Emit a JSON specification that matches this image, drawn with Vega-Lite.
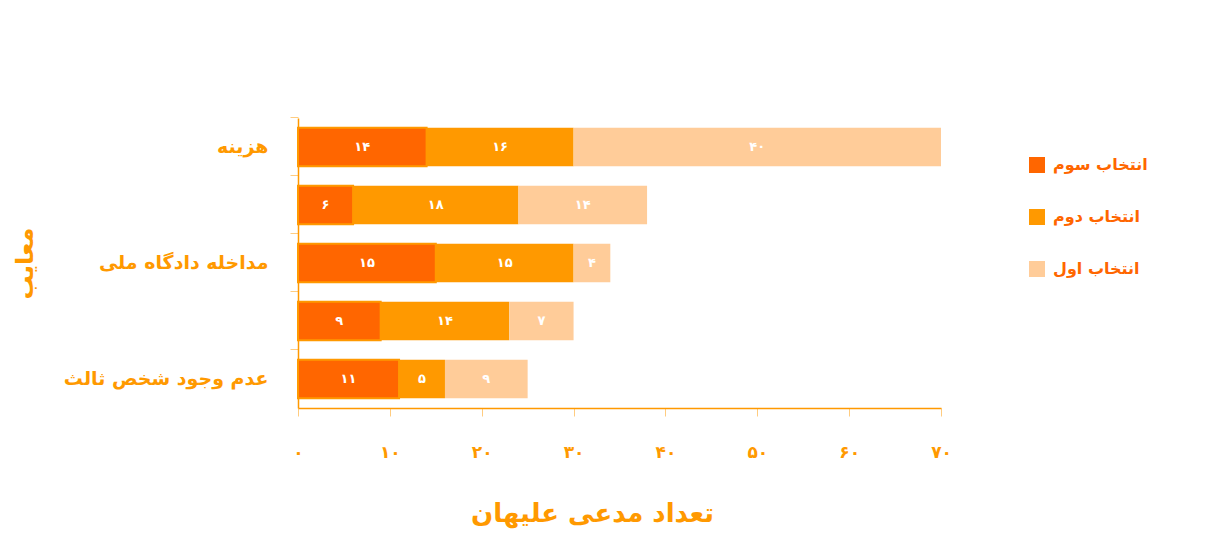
{
  "$schema": "https://vega.github.io/schema/vega-lite/v6.json",
  "autosize": {"type": "none"},
  "padding": {"left": 298, "top": 118, "right": 277, "bottom": 125},
  "width": 643,
  "height": 290,
  "background": "white",
  "config": {"view": {"stroke": null}, "font": "DejaVu Sans"},
  "data": {"values": [
    {"criterion": "هزینه", "series": "انتخاب سوم", "value": 14},
    {"criterion": "هزینه", "series": "انتخاب دوم", "value": 16},
    {"criterion": "هزینه", "series": "انتخاب اول", "value": 40},
    {"criterion": "معیار ۲", "series": "انتخاب سوم", "value": 6},
    {"criterion": "معیار ۲", "series": "انتخاب دوم", "value": 18},
    {"criterion": "معیار ۲", "series": "انتخاب اول", "value": 14},
    {"criterion": "مداخله دادگاه ملی", "series": "انتخاب سوم", "value": 15},
    {"criterion": "مداخله دادگاه ملی", "series": "انتخاب دوم", "value": 15},
    {"criterion": "مداخله دادگاه ملی", "series": "انتخاب اول", "value": 4},
    {"criterion": "معیار ۴", "series": "انتخاب سوم", "value": 9},
    {"criterion": "معیار ۴", "series": "انتخاب دوم", "value": 14},
    {"criterion": "معیار ۴", "series": "انتخاب اول", "value": 7},
    {"criterion": "عدم وجود شخص ثالث", "series": "انتخاب سوم", "value": 11},
    {"criterion": "عدم وجود شخص ثالث", "series": "انتخاب دوم", "value": 5},
    {"criterion": "عدم وجود شخص ثالث", "series": "انتخاب اول", "value": 9}
  ]},
  "transform": [
    {"calculate": "indexof(['انتخاب سوم','انتخاب دوم','انتخاب اول'], datum.series)", "as": "ord"},
    {"stack": "value", "groupby": ["criterion"], "sort": [{"field": "ord", "order": "ascending"}], "as": ["x0", "x1"]},
    {"calculate": "(datum.x0 + datum.x1) / 2", "as": "mid"},
    {"calculate": "replace(replace(replace(replace(replace(replace(replace(replace(replace(replace(toString(datum.value),regexp('0','g'),'۰'),regexp('1','g'),'۱'),regexp('2','g'),'۲'),regexp('3','g'),'۳'),regexp('4','g'),'۴'),regexp('5','g'),'۵'),regexp('6','g'),'۶'),regexp('7','g'),'۷'),regexp('8','g'),'۸'),regexp('9','g'),'۹')", "as": "lbl"}
  ],
  "encoding": {
    "y": {
      "field": "criterion", "type": "nominal",
      "sort": ["هزینه", "معیار ۲", "مداخله دادگاه ملی", "معیار ۴", "عدم وجود شخص ثالث"],
      "scale": {"paddingInner": 0.34, "paddingOuter": 0.17},
      "axis": {
        "title": "معایب",
        "titleAngle": -90,
        "titleX": -273,
        "titleY": 145,
        "titleAlign": "center",
        "titleBaseline": "middle",
        "titleFontSize": 24,
        "titleFontWeight": "bold",
        "titleColor": "#FF9900",
        "labelExpr": "indexof(['هزینه','مداخله دادگاه ملی','عدم وجود شخص ثالث'], datum.value) >= 0 ? datum.value : ''",
        "labelFontSize": 19,
        "labelFontWeight": "bold",
        "labelColor": "#FF9900",
        "labelPadding": 22,
        "labelLimit": 300,
        "bandPosition": -0.258,
        "tickSize": 8,
        "tickColor": "#FFCC80",
        "domainColor": "#FF9900",
        "domainWidth": 1.5
      }
    }
  },
  "layer": [
    {
      "mark": {"type": "bar", "strokeWidth": 2},
      "encoding": {
        "x": {
          "field": "x0", "type": "quantitative",
          "scale": {"domain": [0, 70], "nice": false},
          "axis": {
            "title": "تعداد مدعی علیهان",
            "values": [0, 10, 20, 30, 40, 50, 60, 70],
            "grid": false,
            "labelFlush": false,
            "titleX": 294,
            "titleY": 105,
            "titleAlign": "center",
            "titleBaseline": "middle",
            "titleFontSize": 26,
            "titleFontWeight": "bold",
            "titleColor": "#FF9900",
            "labelExpr": "replace(replace(replace(replace(replace(replace(replace(replace(datum.label,regexp('0','g'),'۰'),regexp('1','g'),'۱'),regexp('2','g'),'۲'),regexp('3','g'),'۳'),regexp('4','g'),'۴'),regexp('5','g'),'۵'),regexp('6','g'),'۶'),regexp('7','g'),'۷')",
            "labelFontSize": 17,
            "labelFontWeight": "bold",
            "labelColor": "#FF9900",
            "labelPadding": 28,
            "tickSize": 8,
            "tickColor": "#FFCC80",
            "domainColor": "#FF9900",
            "domainWidth": 1.5
          }
        },
        "x2": {"field": "x1"},
        "color": {
          "field": "series", "type": "nominal",
          "scale": {"domain": ["انتخاب سوم", "انتخاب دوم", "انتخاب اول"], "range": ["#FF6600", "#FF9900", "#FFCC99"]},
          "legend": {
            "title": null,
            "orient": "none",
            "legendX": 731,
            "legendY": 39,
            "symbolType": "square",
            "symbolSize": 256,
            "symbolStrokeWidth": 0,
            "labelFontSize": 16,
            "labelFontWeight": "bold",
            "labelColor": "#FF6600",
            "labelOffset": 8,
            "rowPadding": 36,
            "padding": 0
          }
        },
        "stroke": {"condition": {"test": "datum.series === 'انتخاب سوم'", "value": "#FF9900"}, "value": null}
      }
    },
    {
      "mark": {"type": "text", "color": "white", "fontSize": 13, "fontWeight": "bold", "align": "center", "baseline": "middle"},
      "encoding": {
        "x": {"field": "mid", "type": "quantitative"},
        "text": {"field": "lbl"}
      }
    }
  ]
}
